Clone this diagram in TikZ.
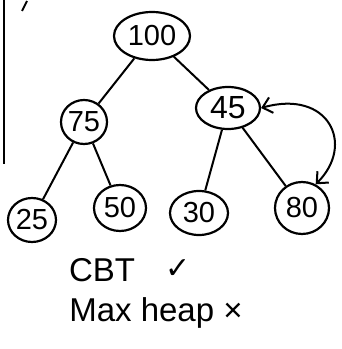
\documentclass[tikz,border=0pt]{standalone}
\usepackage{fontspec}
\setmainfont{Liberation Sans}
\newfontfamily\symfont{DejaVu Sans}
\usetikzlibrary{shapes.geometric,arrows.meta}
\begin{document}
\begin{tikzpicture}[x=1pt,y=1pt,
  key/.style={ellipse,draw,line width=2.2pt,inner sep=0pt,font=\fontsize{29}{31}\selectfont},
  link/.style={line width=2pt},
  swap/.style={line width=2pt,{Straight Barb[length=9pt,width=16pt]}-{Straight Barb[length=9pt,width=16pt]}},
  note/.style={font=\fontsize{33}{36}\selectfont}]
\useasboundingbox (0,0) rectangle (342,349);
% page margin rule and cut-off item label
\draw[line width=2pt] (4,349) -- (4,185);
\draw[line width=2pt] (27,348) -- (22,338);
% heap nodes
\node[key,minimum width=76pt,minimum height=48pt] (n100) at (152,313) {100};
\node[key,minimum width=46pt,minimum height=44pt] (n75) at (84,227) {75};
\node[key,minimum width=64pt,minimum height=42pt,font=\fontsize{32}{34}\selectfont] (n45) at (228,241) {45};
\node[key,minimum width=48pt,minimum height=44pt] (n25) at (32,129) {25};
\node[key,minimum width=52pt,minimum height=46pt] (n50) at (120,141) {50};
\node[key,minimum width=58pt,minimum height=44pt] (n30) at (199,136) {30};
\node[key,minimum width=54pt,minimum height=52pt] (n80) at (302,141) {80};
% tree edges
\draw[link] (n100) -- (n75);
\draw[link] (n100) -- (n45);
\draw[link] (n75) -- (n25);
\draw[link] (n75) -- (n50);
\draw[link] (n45) -- (n30);
\draw[link] (n45) -- (n80);
% swap arrow between 45 and 80
\draw[swap] (n45.east) .. controls (328,260) and (356,205) .. (n80.60);
% verdicts
\node[note] (cbt) at (102,79) {CBT};
\node[note,font=\symfont\fontsize{30}{32}\selectfont] (ok) at (178,80) {✓};
\node[note] (maxheap) at (156,36) {Max heap ×};
\end{tikzpicture}
\end{document}
